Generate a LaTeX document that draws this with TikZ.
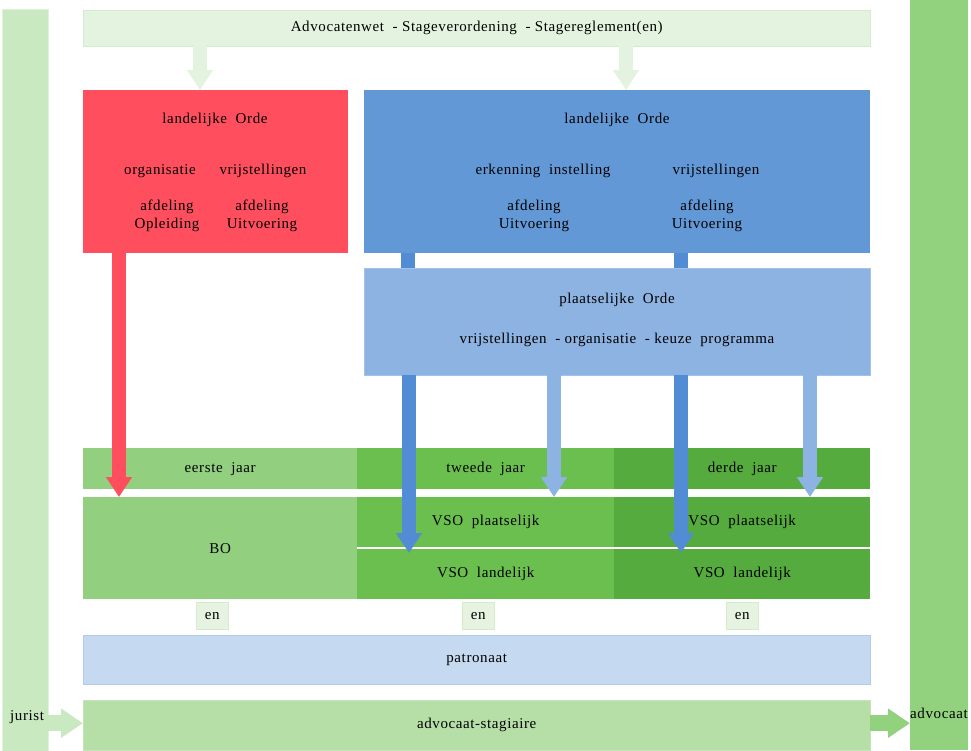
\documentclass[tikz,border=0pt]{standalone}
\usepackage{fontspec}
\setmainfont[LetterSpace=4]{Liberation Serif}
\usetikzlibrary{arrows.meta,calc,positioning}
\definecolor{wetgreen}{HTML}{E3F3DF}
\definecolor{wetline}{HTML}{D3ECCB}
\definecolor{juristgreen}{HTML}{C9E9C0}
\definecolor{juristline}{HTML}{DDF2D6}
\definecolor{advgreen}{HTML}{92D27E}
\definecolor{ordered}{HTML}{FF4F5E}
\definecolor{ordeblue}{HTML}{6398D6}
\definecolor{plaatsblue}{HTML}{8DB3E2}
\definecolor{vsoblue}{HTML}{528CD4}
\definecolor{jaarone}{HTML}{92D080}
\definecolor{jaartwo}{HTML}{6ABF4F}
\definecolor{jaarthree}{HTML}{56AB3E}
\definecolor{engreen}{HTML}{E5F3E0}
\definecolor{patrblue}{HTML}{C5D9F1}
\definecolor{patrline}{HTML}{B3CBEB}
\definecolor{stagegreen}{HTML}{B6DFA8}
\tikzstyle{blk}=[rectangle, inner sep=0pt, anchor=north west, font=\fontsize{15}{18}\selectfont]
\tikzstyle{txt}=[inner sep=0pt, align=center, font=\fontsize{15}{18}\selectfont]
\tikzstyle{fat}=[line width=14pt, -{Triangle[length=20pt,width=25pt]}]
\tikzstyle{fatter}=[line width=16pt, -{Triangle[length=22pt,width=28pt]}]

\begin{document}
\begin{tikzpicture}[x=1pt,y=-1pt]
    \useasboundingbox (0,0) rectangle (971,750);
    % side bars
    \node[blk, fill=juristgreen, draw=juristline, minimum width=46pt, minimum height=742pt] (jur) at (2,9) {};
    \node[blk, fill=advgreen, minimum width=58pt, minimum height=750pt] (advo) at (910,0) {};
    % wet
    \node[blk, fill=wetgreen, draw=wetline, minimum width=787pt, minimum height=36pt] (wet) at (83,10)
        {Advocatenwet\ \ - Stageverordening\ \ - Stagereglement(en)};
    % orde boxes
    \node[blk, fill=ordered, minimum width=265pt, minimum height=163pt] (red) at (83,90) {};
    \node[blk, fill=ordeblue, minimum width=506pt, minimum height=163pt] (blue) at (364,90) {};
    \node[blk, fill=plaatsblue, draw=plaatsblue!80!white, minimum width=506pt, minimum height=107pt] (plaats) at (364,268) {};
    \node[txt] (redt) at (215,120) {landelijke\ \ Orde};
    \node[txt] (redorg) at (160,171) {organisatie};
    \node[txt] (redvr) at (263,171) {vrijstellingen};
    \node[txt] (redopl) at (167,216) {afdeling\\Opleiding};
    \node[txt] (reduit) at (262,216) {afdeling\\Uitvoering};
    \node[txt] (bluet) at (617,120) {landelijke\ \ Orde};
    \node[txt] (blueerk) at (543,171) {erkenning\ \ instelling};
    \node[txt] (bluevr) at (716,171) {vrijstellingen};
    \node[txt] (blueuita) at (534,216) {afdeling\\Uitvoering};
    \node[txt] (blueuitb) at (707,216) {afdeling\\Uitvoering};
    \node[txt] (plaatst) at (617,300) {plaatselijke\ \ Orde};
    \node[txt] (plaatsvr) at (617,340) {vrijstellingen\ \ - organisatie\ \ - keuze\ \ programma};
    % jaren
    \node[blk, fill=jaarone, minimum width=274pt, minimum height=41pt] (eerste) at (83,448) {eerste\ \ jaar};
    \node[blk, fill=jaartwo, minimum width=257pt, minimum height=41pt] (tweede) at (357,448) {tweede\ \ jaar};
    \node[blk, fill=jaarthree, minimum width=256pt, minimum height=41pt] (derde) at (614,448) {derde\ \ jaar};
    \node[blk, fill=jaarone, minimum width=274pt, minimum height=102pt] (bo) at (83,497) {BO};
    \node[blk, fill=jaartwo, minimum width=257pt, minimum height=50pt] (vpa) at (357,497) {VSO\ \ plaatselijk};
    \node[blk, fill=jaarthree, minimum width=256pt, minimum height=50pt] (vpb) at (614,497) {VSO\ \ plaatselijk};
    \node[blk, fill=jaartwo, minimum width=257pt, minimum height=50pt] (vla) at (357,549) {VSO\ \ landelijk};
    \node[blk, fill=jaarthree, minimum width=256pt, minimum height=50pt] (vlb) at (614,549) {VSO\ \ landelijk};
    % en
    \node[blk, fill=engreen, draw=wetline, minimum width=32pt, minimum height=27pt] (ena) at (196,602) {en};
    \node[blk, fill=engreen, draw=wetline, minimum width=32pt, minimum height=27pt] (enb) at (462,602) {en};
    \node[blk, fill=engreen, draw=wetline, minimum width=32pt, minimum height=27pt] (enc) at (726,602) {en};
    \node[blk, fill=patrblue, draw=patrline, minimum width=787pt, minimum height=49pt] (patr) at (83,635) {patronaat};
    \node[blk, fill=stagegreen, draw=stagegreen!80!white, minimum width=787pt, minimum height=50pt] (stag) at (83,700) {advocaat-stagiaire};
    \node[txt, anchor=west] (jurt) at (10,717) {jurist};
    \node[txt, anchor=west] (advt) at (910,713) {advocaat};

    % arrows
    \draw[fat, wetgreen] ($(wet.south west)+(117,0)$) -- ($(wet.south west |- red.north)+(117,0)$);
    \draw[fat, wetgreen] ($(wet.south west)+(543,0)$) -- ($(wet.south west |- blue.north)+(543,0)$);
    \draw[line width=14pt, vsoblue] ($(blue.south west)+(44,0)$) -- ($(plaats.north west)+(44,0)$);
    \draw[line width=14pt, vsoblue] ($(blue.south west)+(317,0)$) -- ($(plaats.north west)+(317,0)$);
    \draw[fat, ordered] ($(red.south west)+(36,0)$) -- ($(red.south west |- bo.north)+(36,0)$);
    \draw[fat, vsoblue] ($(plaats.south west)+(45,0)$) -- ($(plaats.south west |- vla.north)+(45,4)$);
    \draw[fat, vsoblue] ($(plaats.south west)+(317,0)$) -- ($(plaats.south west |- vlb.north)+(317,4)$);
    \draw[fat, plaatsblue] ($(plaats.south west)+(190,0)$) -- ($(plaats.south west |- vpa.north)+(190,0)$);
    \draw[fat, plaatsblue] ($(plaats.south west)+(446,0)$) -- ($(plaats.south west |- vpb.north)+(446,0)$);
    \draw[fatter, juristgreen] ($(jur.east |- stag.west)+(0,-2)$) -- ($(stag.west)+(0,-2)$);
    \draw[fatter, advgreen] ($(stag.east)+(0,-2)$) -- ($(stag.east -| advo.west)+(0,-2)$);
\end{tikzpicture}
\end{document}
